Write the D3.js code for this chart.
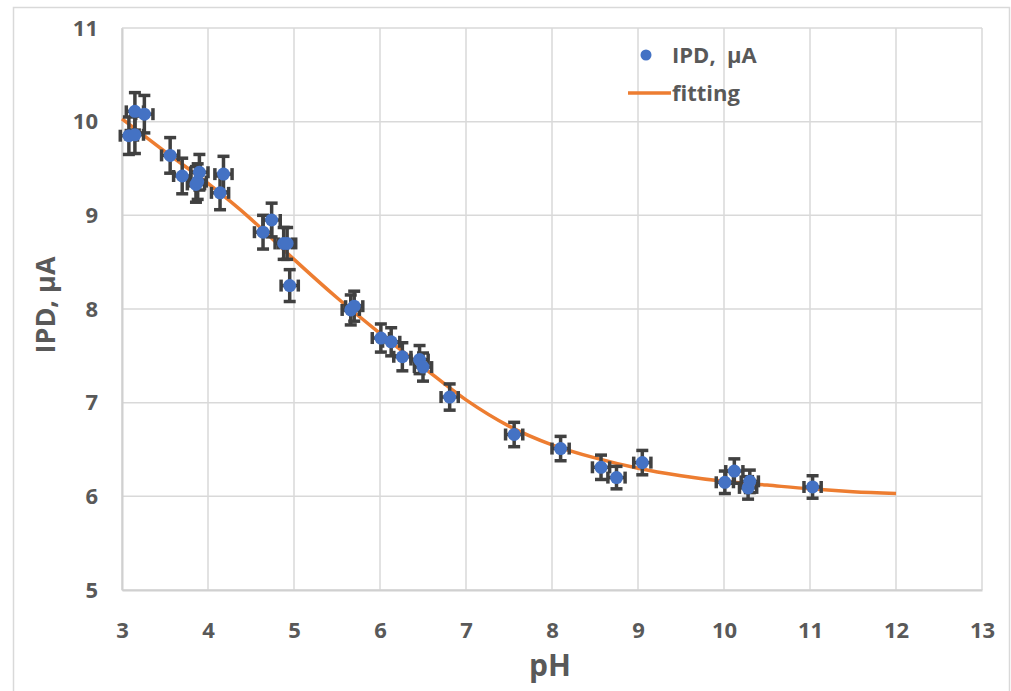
<!DOCTYPE html>
<html>
<head>
<meta charset="utf-8">
<script src="https://cdn.jsdelivr.net/npm/d3@7"></script>
<style>
  body { margin: 0; background: #fff; }
  text { font-family: "Open Sans", sans-serif; font-weight: bold; fill: #595959; }
</style>
</head>
<body>
<div id="chart"></div>
<script>
// Measured points (pH, IPD in µA) with error bars
const pH       = [3.08, 3.15, 3.15, 3.26, 3.56, 3.70, 3.86, 3.88, 3.90, 4.14, 4.18,
                  4.64, 4.74, 4.88, 4.92, 4.95, 5.66, 5.70, 6.01, 6.13, 6.26, 6.46, 6.50,
                  6.81, 7.56, 8.10, 8.57, 8.75, 9.05, 10.01, 10.12, 10.28, 10.30, 11.03];
const ipd      = [9.85, 9.86, 10.11, 10.08, 9.64, 9.42, 9.33, 9.36, 9.46, 9.24, 9.44,
                  8.82, 8.95, 8.70, 8.70, 8.25, 7.99, 8.03, 7.69, 7.65, 7.49, 7.46, 7.38,
                  7.06, 6.66, 6.51, 6.31, 6.20, 6.36, 6.15, 6.27, 6.09, 6.16, 6.10];
const ipdErr   = [0.20, 0.20, 0.20, 0.20, 0.19, 0.19, 0.19, 0.19, 0.19, 0.18, 0.19,
                  0.18, 0.18, 0.17, 0.17, 0.17, 0.16, 0.16, 0.15, 0.15, 0.15, 0.15, 0.15,
                  0.14, 0.13, 0.13, 0.13, 0.12, 0.13, 0.12, 0.13, 0.12, 0.12, 0.12];
const pHErr    = [0.1, 0.1, 0.1, 0.1, 0.1, 0.1, 0.1, 0.1, 0.1, 0.1, 0.1,
                  0.1, 0.1, 0.1, 0.1, 0.1, 0.1, 0.1, 0.1, 0.1, 0.1, 0.1, 0.1,
                  0.1, 0.1, 0.1, 0.1, 0.1, 0.1, 0.1, 0.1, 0.1, 0.1, 0.1];

// Fitting curve
const fitPH  = [3, 3.5, 4, 4.5, 5, 5.5, 6, 6.5, 7, 7.5, 8, 8.5, 9, 9.5, 10, 10.5, 11, 11.5, 12];
const fitIPD = [10.03, 9.68, 9.34, 8.96, 8.53, 8.12, 7.74, 7.38, 7.03, 6.75, 6.55, 6.41,
                6.30, 6.22, 6.16, 6.12, 6.08, 6.05, 6.03];

const xTicks = [3, 4, 5, 6, 7, 8, 9, 10, 11, 12, 13];
const yTicks = [5, 6, 7, 8, 9, 10, 11];

const W = 1011, H = 691;
const margin = { top: 28, right: 29, bottom: 101, left: 122 };
const width = W - margin.left - margin.right;
const height = H - margin.top - margin.bottom;

const svg = d3.select("#chart")
    .append("svg")
    .attr("width", W)
    .attr("height", H);

// outer chart border
svg.append("rect")
    .attr("x", 13.5).attr("y", 7.5)
    .attr("width", 996).attr("height", 700)
    .attr("fill", "none")
    .attr("stroke", "#d9d9d9")
    .attr("stroke-width", 1.5);

const g = svg.append("g")
    .attr("transform", `translate(${margin.left},${margin.top})`);

const x = d3.scaleLinear().domain([3, 13]).range([0, width]);
const y = d3.scaleLinear().domain([5, 11]).range([height, 0]);

// gridlines
g.append("g")
    .selectAll("line")
    .data(xTicks)
    .enter().append("line")
    .attr("x1", d => x(d)).attr("x2", d => x(d))
    .attr("y1", 0).attr("y2", height)
    .attr("stroke", "#d9d9d9").attr("stroke-width", 1.5);

g.append("g")
    .selectAll("line")
    .data(yTicks)
    .enter().append("line")
    .attr("x1", 0).attr("x2", width)
    .attr("y1", d => y(d)).attr("y2", d => y(d))
    .attr("stroke", "#d9d9d9").attr("stroke-width", 1.5);

// axes (labels only, lines drawn by gridlines)
const xAxis = g.append("g")
    .attr("transform", `translate(0,${height})`)
    .call(d3.axisBottom(x).tickValues(xTicks).tickSize(0).tickPadding(32).tickFormat(d3.format("d")));
xAxis.select(".domain").attr("stroke", "#d0d0d0").attr("stroke-width", 2);
xAxis.selectAll("text").style("font-size", "22px").attr("fill", "#595959");

const yAxis = g.append("g")
    .call(d3.axisLeft(y).tickValues(yTicks).tickSize(0).tickPadding(24).tickFormat(d3.format("d")));
yAxis.select(".domain").attr("stroke", "#d0d0d0").attr("stroke-width", 2);
yAxis.selectAll("text").style("font-size", "22px").attr("fill", "#595959");

// axis titles
g.append("text")
    .attr("x", width / 2 - 2)
    .attr("y", height + 86)
    .attr("text-anchor", "middle")
    .style("font-size", "30px")
    .text("pH");

g.append("text")
    .attr("transform", "rotate(-90)")
    .attr("x", -height / 2 + 4)
    .attr("y", -margin.left + 55)
    .attr("text-anchor", "middle")
    .style("font-size", "27px")
    .text("IPD, µA");

// fitting curve
const line = d3.line()
    .x((d, i) => x(fitPH[i]))
    .y(d => y(d))
    .curve(d3.curveMonotoneX);

g.append("path")
    .datum(fitIPD)
    .attr("fill", "none")
    .attr("stroke", "#ED7D31")
    .attr("stroke-width", 3.5)
    .attr("d", line);

// error bars
const errColor = "#404040";
const cap = 6;
const pts = pH.map((p, i) => ({ p, v: ipd[i], ey: ipdErr[i], ex: pHErr[i] }));
const eb = g.append("g").attr("stroke", errColor).attr("stroke-width", 3.5);

pts.forEach(d => {
    const cx = x(d.p), cy = y(d.v);
    const y1 = y(d.v + d.ey), y2 = y(d.v - d.ey);
    const x1 = x(d.p - d.ex), x2 = x(d.p + d.ex);
    eb.append("line").attr("x1", cx).attr("x2", cx).attr("y1", y1).attr("y2", y2);
    eb.append("line").attr("x1", cx - cap).attr("x2", cx + cap).attr("y1", y1).attr("y2", y1);
    eb.append("line").attr("x1", cx - cap).attr("x2", cx + cap).attr("y1", y2).attr("y2", y2);
    eb.append("line").attr("x1", x1).attr("x2", x2).attr("y1", cy).attr("y2", cy);
    eb.append("line").attr("x1", x1).attr("x2", x1).attr("y1", cy - cap).attr("y2", cy + cap);
    eb.append("line").attr("x1", x2).attr("x2", x2).attr("y1", cy - cap).attr("y2", cy + cap);
});

// points
g.append("g")
    .selectAll("circle")
    .data(pts)
    .enter().append("circle")
    .attr("cx", d => x(d.p))
    .attr("cy", d => y(d.v))
    .attr("r", 6.5)
    .attr("fill", "#4472C4");

// legend
const legend = svg.append("g").attr("transform", "translate(628,55)");
legend.append("circle")
    .attr("cx", 18).attr("cy", 0).attr("r", 5.5)
    .attr("fill", "#4472C4");
legend.append("text")
    .attr("x", 44).attr("y", 8)
    .style("font-size", "22px")
    .style("white-space", "pre")
    .text("IPD,  µA");
legend.append("line")
    .attr("x1", 0).attr("x2", 43)
    .attr("y1", 38).attr("y2", 38)
    .attr("stroke", "#ED7D31").attr("stroke-width", 3.5);
legend.append("text")
    .attr("x", 44).attr("y", 46)
    .style("font-size", "22px")
    .text("fitting");
</script>
</body>
</html>
